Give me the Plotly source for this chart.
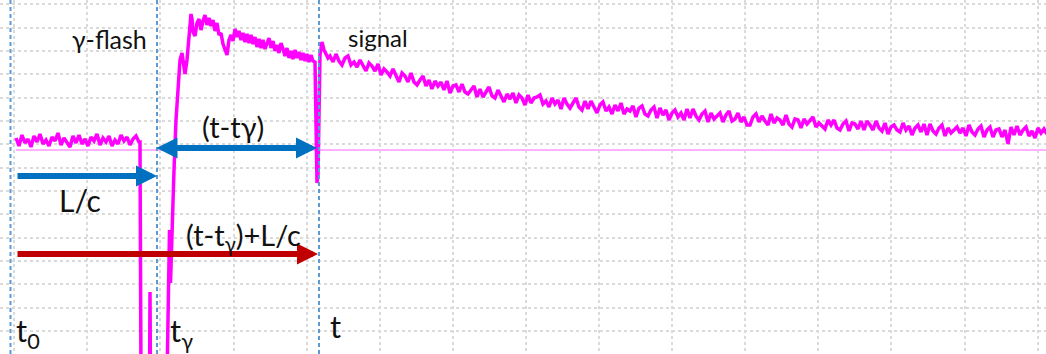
import numpy as np
import plotly.graph_objects as go

# time axis in arbitrary units (ns), amplitude in arbitrary units relative to the baseline
t0 = 10.5
t_gamma = 157
t_sig = 319

# pre-flash baseline noise (sampled every 3 units from 16)
pre_t = np.arange(16, 140, 3)
pre_a = [12, 4, 15, 7, 11, 3, 14, 8, 16, 6, 10, 4, 13, 9, 17, 5, 12, 8, 3, 14,
         7, 15, 6, 11, 4, 13, 9, 16, 5, 12, 8, 14, 4, 10, 6, 15, 9, 13, 5, 11, 14, 8]

# gamma flash and saturated region
flash_t = [140, 141, 149.5, 150, 150.5, 167, 169.5, 170.5, 172, 174, 176, 178, 180, 182, 183,
           185, 187, 189, 191, 192, 193, 195, 197, 199, 201, 203, 205, 207, 209, 211, 213,
           215, 217, 219, 221, 223, 225, 227, 229, 231, 233, 235, 237, 239, 241, 243, 245,
           247, 249, 251, 253, 255, 257, 259, 261, 263, 265, 267, 269, 271, 273, 275, 277,
           279, 281, 283, 285, 287, 289, 291, 293, 295, 297, 299, 301, 303, 305, 307, 309,
           311, 313, 315, 316, 317, 318, 319, 320, 322, 324, 326, 328]
flash_a = [8, -230, -230, -142, -230, -230, -80, -133, -80, -20, 30, 60, 90, 97, 88,
           76, 90, 112, 136, 131, 118, 114, 127, 131, 120, 129, 135, 125, 132, 124, 130,
           119, 127, 115, 117, 106, 101, 95, 110, 115, 109, 121, 113, 119, 110, 117, 108,
           116, 107, 115, 106, 113, 103, 111, 102, 110, 101, 108, 112, 102, 109, 99, 105,
           97, 107, 101, 94, 102, 92, 99, 91, 100, 92, 98, 90, 97, 89, 96, 88,
           95, 89, 88, 30, -33, -25, 50, 95, 108, 100, 96, 92]

# decaying signal (sampled every 3 units from 330)
sig_t = np.arange(330, 1048, 3)
sig_a = [94, 88, 96, 89, 85, 92, 94, 85, 88, 83,
         90, 84, 79, 87, 84, 79, 86, 75, 81, 78,
         74, 81, 74, 68, 77, 74, 68, 77, 68, 65,
         70, 74, 64, 70, 61, 69, 64, 68, 60, 69,
         57, 64, 65, 58, 66, 58, 56, 60, 64, 53,
         61, 53, 58, 63, 54, 52, 60, 54, 48, 56,
         51, 57, 47, 55, 52, 45, 55, 47, 52, 53,
         55, 46, 49, 43, 52, 46, 50, 41, 52, 46,
         42, 47, 52, 43, 40, 49, 41, 49, 43, 37,
         45, 48, 39, 43, 36, 45, 39, 47, 36, 41,
         39, 44, 33, 42, 44, 36, 34, 40, 43, 32,
         42, 35, 40, 30, 37, 40, 33, 37, 30, 41,
         32, 41, 34, 30, 36, 39, 28, 37, 31, 34,
         37, 28, 35, 39, 29, 31, 37, 28, 33, 25,
         25, 33, 36, 28, 34, 29, 25, 36, 27, 32,
         30, 25, 35, 26, 23, 31, 30, 22, 31, 26,
         30, 33, 23, 27, 24, 21, 30, 25, 30, 22,
         20, 26, 29, 19, 27, 26, 21, 29, 20, 29,
         25, 20, 29, 22, 19, 27, 16, 23, 25, 20,
         18, 27, 20, 24, 15, 22, 25, 18, 26, 15,
         26, 19, 16, 22, 25, 14, 22, 17, 20, 23,
         17, 22, 14, 25, 18, 15, 21, 24, 13, 20,
         23, 13, 20, 21, 13, 20, 6, 23, 15, 24,
         15, 20, 23, 14, 19, 12, 22, 17, 21, 16]

baseline_t = [16, 1046]
baseline_a = [0, 0]

# arrow levels
lc_level = -26
dt_level = 2
sum_level = -104
arrow_start = 16

x_range = [0, 1046]
y_range = [-204, 150]

full_t = list(pre_t) + flash_t + list(sig_t)
full_a = pre_a + flash_a + sig_a

fig = go.Figure()
fig.add_trace(go.Scatter(x=baseline_t, y=baseline_a, mode="lines",
                         line=dict(color="#ffb3ff", width=2), hoverinfo="skip"))
fig.add_trace(go.Scatter(x=full_t, y=full_a, mode="lines",
                         line=dict(color="#ff00ff", width=3.5), hoverinfo="skip"))

for tx in [t0, t_gamma, t_sig]:
    fig.add_shape(type="line", xref="x", yref="paper", x0=tx, x1=tx, y0=0, y1=1,
                  line=dict(color="#5b9bd5", width=2, dash="4px,3px"), layer="above")

BLUE = "#0070c0"
RED = "#c00000"

def arrow(x_tip, x_tail, y, color, both=False):
    d = dict(x=x_tip, y=y, ax=x_tail, ay=y, xref="x", yref="y", axref="x", ayref="y",
             text="", showarrow=True, arrowhead=2, arrowsize=0.7, arrowwidth=6,
             arrowcolor=color, standoff=0, startstandoff=0)
    if both:
        d.update(arrowside="end+start", startarrowhead=2, startarrowsize=0.7)
    fig.add_annotation(**d)

arrow(t_gamma, arrow_start, lc_level, BLUE)
arrow(t_sig - 2, t_gamma - 2, dt_level, BLUE, both=True)
arrow(t_sig - 1, arrow_start, sum_level, RED)

FONT = "Lato"

def label(text, x, y, size):
    fig.add_annotation(x=x, y=y, xref="x", yref="y", text=text, showarrow=False,
                       xanchor="left", yanchor="middle",
                       font=dict(family=FONT, size=size, color="#111111"))

label("γ-flash", 70, 111, 25)
label("signal", 346, 113, 24)
label("(t-tγ)", 200, 24, 29)
label("L/c", 57, -50, 30)
label("(t-t<sub>γ</sub>)+L/c", 184, -86, 29)
label("t<sub>0</sub>", 14, -182, 31)
label("t<sub>γ</sub>", 168, -182, 31)
label("t", 328, -176, 31)

fig.update_layout(
    width=1046, height=354,
    margin=dict(l=0, r=0, t=0, b=0),
    paper_bgcolor="white", plot_bgcolor="white",
    showlegend=False,
    xaxis=dict(range=x_range, showgrid=True, gridcolor="#dadada", griddash="dot",
               gridwidth=1.5, tick0=14.2, dtick=73.1, showticklabels=False,
               zeroline=False, showline=False, ticks=""),
    yaxis=dict(range=y_range, showgrid=True, gridcolor="#dadada", griddash="dot",
               gridwidth=1.5, tick0=5.6, dtick=23.33, showticklabels=False,
               zeroline=False, showline=False, ticks=""),
)

fig.write_html("out.html")
